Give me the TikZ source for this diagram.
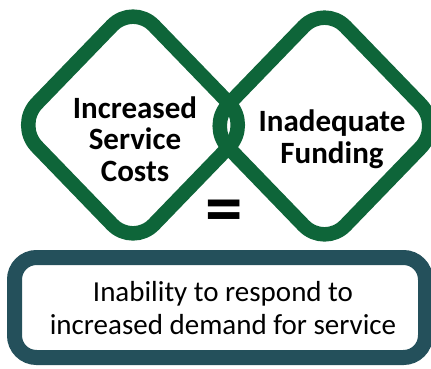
\documentclass[tikz,border=0pt]{standalone}
\usepackage{fontspec}
\setmainfont{Carlito}
\definecolor{loopgreen}{RGB}{14,101,57}
\definecolor{boxteal}{RGB}{36,80,91}
\tikzset{
  loop/.style={draw=loopgreen, line width=14.5pt, rounded corners=30pt},
  causetext/.style={align=center, font=\fontsize{31}{31.5}\selectfont\bfseries},
  resultbox/.style={draw=boxteal, line width=15pt, rounded corners=22pt},
  resulttext/.style={align=center, font=\fontsize{29}{33}\selectfont},
}
\begin{document}
\begin{tikzpicture}[x=1pt,y=-1pt]
  \useasboundingbox (0,0) rectangle (431,368);
  \clip (0,0) rectangle (431,368);
  % two interlocking rounded diamonds
  \draw[loop] (16,125) -- (133,4) -- (250,125) -- (133,246) -- cycle;
  \draw[loop] (207.5,126) -- (324.5,5) -- (441.5,126) -- (324.5,247) -- cycle;
  \node[causetext] (costs) at (135,139) {Increased\\Service\\Costs};
  \node[causetext] (funding) at (332,139) {Inadequate\\Funding};
  \node[font=\fontsize{75}{75}\selectfont\bfseries] (equals) at (224.5,216.5) {=};
  % result box
  \draw[resultbox] (14.5,257.5) rectangle (425.5,357.5);
  \node[resulttext] (result) at (223,308) {Inability to respond to\\increased demand for service};
\end{tikzpicture}
\end{document}
